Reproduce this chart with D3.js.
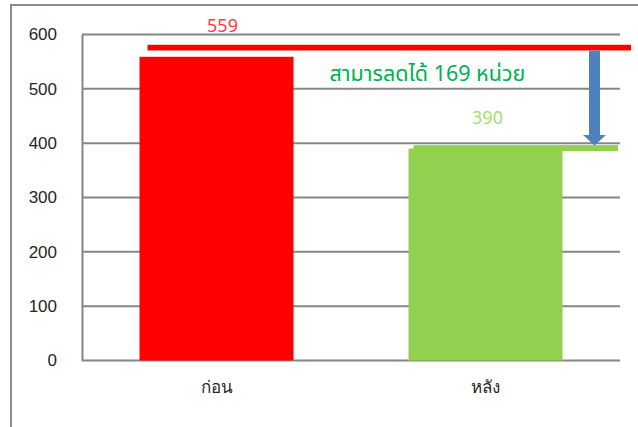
<!DOCTYPE html>
<html>
<head>
<meta charset="utf-8">
<script src="https://cdn.jsdelivr.net/npm/d3@7"></script>
<style>
  body { margin: 0; background: #fff; }
  svg { display: block; font-family: "Noto Sans Thai", "Tahoma", "DejaVu Sans", sans-serif; }
</style>
</head>
<body>
<svg id="chart" width="638" height="427"></svg>
<script>
// data
var categories = ["ก่อน", "หลัง"];
var values = [559, 390];
var barColors = ["#ff0000", "#92d050"];
var labelColors = ["#ff3b3b", "#a6dc6e"];
var yTicks = [0, 100, 200, 300, 400, 500, 600];
var noteText = "สามารลดได้ 169 หน่วย";

var svg = d3.select("#chart"),
    margin = { top: 34.5, right: 18, bottom: 66.5, left: 82 },
    width = +svg.attr("width") - margin.left - margin.right,
    height = +svg.attr("height") - margin.top - margin.bottom;

// outer chart frame (only left and top are visible in the picture)
svg.append("path")
    .attr("d", "M11,430V5H640")
    .attr("fill", "none")
    .attr("stroke", "#8c8c8c")
    .attr("stroke-width", 2);

var g = svg.append("g")
    .attr("transform", "translate(" + margin.left + "," + margin.top + ")");

var x = d3.scaleBand()
    .domain(categories)
    .range([0, width])
    .paddingInner(0.4275)
    .paddingOuter(0.2138);

var y = d3.scaleLinear()
    .domain([0, 600])
    .range([height, 0]);

// gridlines
g.append("g")
    .selectAll("line")
    .data(yTicks)
    .enter()
    .append("line")
    .attr("x1", 0)
    .attr("x2", width)
    .attr("y1", function (d) { return y(d); })
    .attr("y2", function (d) { return y(d); })
    .attr("stroke", "#868686")
    .attr("stroke-width", 2);

// y axis
var yAxis = g.append("g")
    .call(d3.axisLeft(y).tickValues(yTicks).tickSize(0).tickPadding(25));
yAxis.select(".domain").attr("stroke", "#868686").attr("stroke-width", 2);
yAxis.selectAll("text")
    .attr("font-size", 17)
    .attr("fill", "#262626")
    .attr("font-family", "inherit");

// bars
g.append("g")
    .selectAll("rect")
    .data(values)
    .enter()
    .append("rect")
    .attr("x", function (d, i) { return x(categories[i]); })
    .attr("y", function (d) { return y(d); })
    .attr("width", x.bandwidth())
    .attr("height", function (d) { return height - y(d); })
    .attr("fill", function (d, i) { return barColors[i]; });

// x axis
var xAxis = g.append("g")
    .attr("transform", "translate(0," + height + ")")
    .call(d3.axisBottom(x).tickSize(0).tickPadding(20));
xAxis.select(".domain").remove();
xAxis.selectAll("text")
    .attr("font-size", 17)
    .attr("fill", "#262626")
    .attr("font-family", "inherit");

// annotation shapes drawn over the chart
var before = values[0], after = values[1];
var xBefore = x(categories[0]), xAfter = x(categories[1]);

// red line at the "before" level
g.append("rect")
    .attr("x", xBefore + 8)
    .attr("y", y(before) - 12)
    .attr("width", width + 11 - xBefore - 8)
    .attr("height", 5.7)
    .attr("fill", "#ff0000");

// green strip at the "after" level
g.append("rect")
    .attr("x", xAfter + 5)
    .attr("y", y(after) - 3.5)
    .attr("width", width - 2 - xAfter - 5)
    .attr("height", 6)
    .attr("fill", "#92d050");

// blue arrow between them
var ax = width - 25.5;
var aTop = y(before) - 6.3, aTip = y(after) - 3;
g.append("path")
    .attr("d", "M" + (ax - 5.5) + "," + aTop +
               "H" + (ax + 5.5) +
               "V" + (aTip - 10.5) +
               "H" + (ax + 11.5) +
               "L" + ax + "," + aTip +
               "L" + (ax - 11.5) + "," + (aTip - 10.5) +
               "H" + (ax - 5.5) + "Z")
    .attr("fill", "#4f81bd");

// value labels
g.append("text")
    .attr("x", xBefore + x.bandwidth() / 2 + 6)
    .attr("y", y(before) - 25)
    .attr("text-anchor", "middle")
    .attr("font-size", 18)
    .attr("fill", labelColors[0])
    .text(before);

g.append("text")
    .attr("x", xAfter + x.bandwidth() / 2 + 2)
    .attr("y", y(after) - 25)
    .attr("text-anchor", "middle")
    .attr("font-size", 18)
    .attr("fill", labelColors[1])
    .text(after);

// difference note
g.append("text")
    .attr("x", xBefore + x.bandwidth() + 36)
    .attr("y", y(before) + 24)
    .attr("font-size", 21.5)
    .attr("fill", "#00b050")
    .text(noteText);
</script>
</body>
</html>
